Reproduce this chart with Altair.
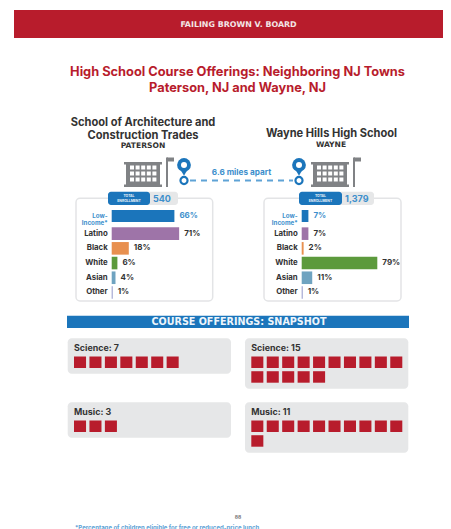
import altair as alt
import pandas as pd

CATS = ["Low-Income*", "Latino", "Black", "White", "Asian", "Other"]
PATERSON = [66, 71, 18, 6, 4, 1]
WAYNE = [7, 7, 2, 79, 11, 1]
BAR_COLORS = ["#1b75bb", "#9e74a8", "#e8904f", "#5c9a3c", "#6fa3c0", "#8f93c8"]
COURSES = [("Science", 7, 0), ("Science", 15, 1), ("Music", 3, 0), ("Music", 11, 1)]

RED = "#b81c2c"
BLUE = "#1b75bb"
OX, OY = 8, 8
FONT = "Inter"
WIDE = "DejaVu Sans"


def X(v):
    return alt.value(v - OX)


def Y(v):
    return alt.value(v - OY)


one = pd.DataFrame({"a": [0]})


def rect(x0, y0, x1, y1, fill, radius=0, stroke=None, sw=0):
    kw = dict(fill=fill, cornerRadius=radius)
    if stroke:
        kw.update(stroke=stroke, strokeWidth=sw)
    return alt.Chart(one).mark_rect(**kw).encode(x=X(x0), x2=X(x1), y=Y(y0), y2=Y(y1))


def text(s, x, y, size, color="#333333", weight="bold", align="center", font=FONT):
    return alt.Chart(pd.DataFrame({"t": [s]})).mark_text(
        fontSize=size, color=color, fontWeight=weight, align=align, baseline="middle", font=font,
        lineBreak="\n", lineHeight=6.5,
    ).encode(x=X(x), y=Y(y), text="t:N")


def rule(x0, y0, x1, y1, color, w, dash=None):
    kw = dict(color=color, strokeWidth=w)
    if dash:
        kw["strokeDash"] = dash
    return alt.Chart(one).mark_rule(**kw).encode(x=X(x0), x2=X(x1), y=Y(y0), y2=Y(y1))


def building(x0):
    g = "#808285"
    ls = [rect(x0 + 2, 163, x0 + 36, 186, g), rect(x0, 162, x0 + 38, 164.5, g), rect(x0, 184.5, x0 + 38, 187, g),
          rule(x0 + 43, 157.5, x0 + 43, 187, g, 2), rect(x0 + 43, 157.5, x0 + 50, 161.5, g)]
    for c in range(5):
        for r in range(3):
            ls.append(rect(x0 + 6 + c * 5.6, 165.5 + r * 6, x0 + 10 + c * 5.6, 169.5 + r * 6, "#ffffff"))
    return ls


def pin(cx):
    def pt(size, shape, y, color=BLUE, filled=True, **kw):
        return alt.Chart(one).mark_point(filled=filled, color=color, opacity=1, size=size, shape=shape, **kw).encode(
            x=X(cx), y=Y(y))
    return [pt(50, "circle", 180.5, filled=False, strokeWidth=2.2),
            pt(190, "circle", 165), pt(70, "triangle-down", 172.2), pt(36, "circle", 165, color="#ffffff")]


def panel(values, x0, k, box):
    df = pd.DataFrame({"cat": CATS, "v": values, "lab": [f"{v}%" for v in values]})
    xs = alt.Scale(domain=[0, 100], range=[x0 - OX, x0 - OX + 100 * k])
    color = alt.Color("cat:N", scale=alt.Scale(domain=CATS, range=BAR_COLORS), legend=None)
    x = alt.X("v:Q", scale=xs, axis=None)
    rest_names = CATS[1:]
    y_low = alt.Y("cat:N", axis=None, scale=alt.Scale(domain=CATS[:1], range=[210 - OY, 222 - OY], paddingInner=0, paddingOuter=0))
    y_rest = alt.Y("cat:N", axis=None, sort=rest_names, scale=alt.Scale(domain=rest_names, range=[226.3 - OY, 299.8 - OY], paddingInner=0, paddingOuter=0))
    low = df[df.cat == CATS[0]]
    rest = df[df.cat != CATS[0]]
    base = alt.value(x0 - OX)
    out = [rect(box[0], 198.3, box[1], 301, "#ffffff", 4, "#e3e4e6", 1.5)]
    out.append(alt.Chart(low).mark_bar(size=12).encode(x=x, x2=base, y=y_low, color=color))
    out.append(alt.Chart(rest).mark_bar(size=12.6).encode(x=x, x2=base, y=y_rest, color=color))
    lab = dict(align="left", dx=5, fontSize=8, fontWeight="bold", font=FONT)
    out.append(alt.Chart(low).mark_text(color="#3d8fcc", **lab).encode(x=x, y=y_low, text="lab:N"))
    out.append(alt.Chart(rest).mark_text(color="#333333", **lab).encode(x=x, y=y_rest, text="lab:N"))
    out.append(alt.Chart(rest).mark_text(align="right", dx=-4, fontSize=7.8, fontWeight="bold", color="#333333", font=FONT).encode(
        x=base, y=y_rest, text="cat:N"))
    out.append(text("Low-\nIncome*", x0 - 4, 216, 6.2, "#3d8fcc", "bold", "right"))
    return out


def squares(count, x0, y0):
    df = pd.DataFrame({"c": [i % 10 for i in range(count)], "r": [i // 10 for i in range(count)]})
    xs = alt.Scale(domain=list(range(10)), range=[x0 - OX, x0 - OX + 151], paddingInner=0.22, paddingOuter=0)
    ys = alt.Scale(domain=[0, 1], range=[y0 - OY, y0 - OY + 26.2], paddingInner=0.22, paddingOuter=0)
    return alt.Chart(df).mark_rect(color=RED).encode(
        x=alt.X("c:O", scale=xs, axis=None), y=alt.Y("r:O", scale=ys, axis=None)
    )


layers = [rect(14, 10, 443, 38, RED),
          text("FAILING BROWN V. BOARD", 238.5, 24.5, 7.9, "#f3e6e6", font=WIDE),
          text("High School Course Offerings: Neighboring NJ Towns", 237.5, 71.5, 12.8, RED),
          text("Paterson, NJ and Wayne, NJ", 237.5, 87.5, 12.8, RED),
          text("School of Architecture and", 143, 122.5, 11.1),
          text("Construction Trades", 143, 135.5, 11.1),
          text("PATERSON", 143, 146, 7.6, font=WIDE),
          text("Wayne Hills High School", 331.5, 134, 11.1),
          text("WAYNE", 331, 145, 7.6, font=WIDE)]
layers += building(124) + building(311)
layers += [rule(190, 180.5, 293, 180.5, "#5fa3d6", 2, [6, 5])]
layers += pin(184) + pin(299)
layers += [text("6.6 miles apart", 241.5, 173, 8.2, "#3d8fcc")]

layers += panel(PATERSON, 111.7, 0.95, (76, 212.7))
layers += panel(WAYNE, 301.7, 0.957, (264, 401))
for x0, x1, x2, n in [(108, 150, 178, "540"), (299, 342, 374, "1,379")]:
    layers += [rect(x1 - 4, 191.7, x2, 205, "#e6e7e8", 3), rect(x0, 191.7, x1, 205, BLUE, 3),
               text("TOTAL", (x0 + x1) / 2, 196, 3.4, "#e8f1f8"),
               text("ENROLLMENT", (x0 + x1) / 2, 201, 3.4, "#e8f1f8"),
               text(n, x1 + 3, 198.5, 9, "#3d8fcc", "bold", "left")]

layers += [rect(67, 315.7, 409, 328, BLUE),
           text("COURSE OFFERINGS: SNAPSHOT", 239, 322.2, 9.6, "#eef5fb", font=WIDE)]

boxes = {0: (67.7, 231), 1: (245, 408.3)}
tops = {"Science": 338.3, "Music": 402.3}
hts = {0: 35.5, 1: 50.5}
for name, count, side in COURSES:
    t = tops[name]
    b0, b1 = boxes[side]
    layers += [rect(b0, t, b1, t + hts[side], "#e6e7e8", 4),
               text(f"{name}: {count}", b0 + 6.3, t + 10, 8.9, "#333333", "bold", "left"),
               squares(count, b0 + 6.3, t + 18.2)]

layers += [text("88", 238, 516.5, 5, "#777777"),
           text("*Percentage of children eligible for free or reduced-price lunch", 75, 528, 6, "#5fa3d6", "bold", "left")]

chart = alt.layer(*layers).resolve_scale(x="independent", y="independent", color="independent").properties(
    width=435, height=521, padding=0, background="#ffffff"
).configure_view(stroke=None)
chart.save("out.html", embed_options={"renderer": "svg", "actions": False})
